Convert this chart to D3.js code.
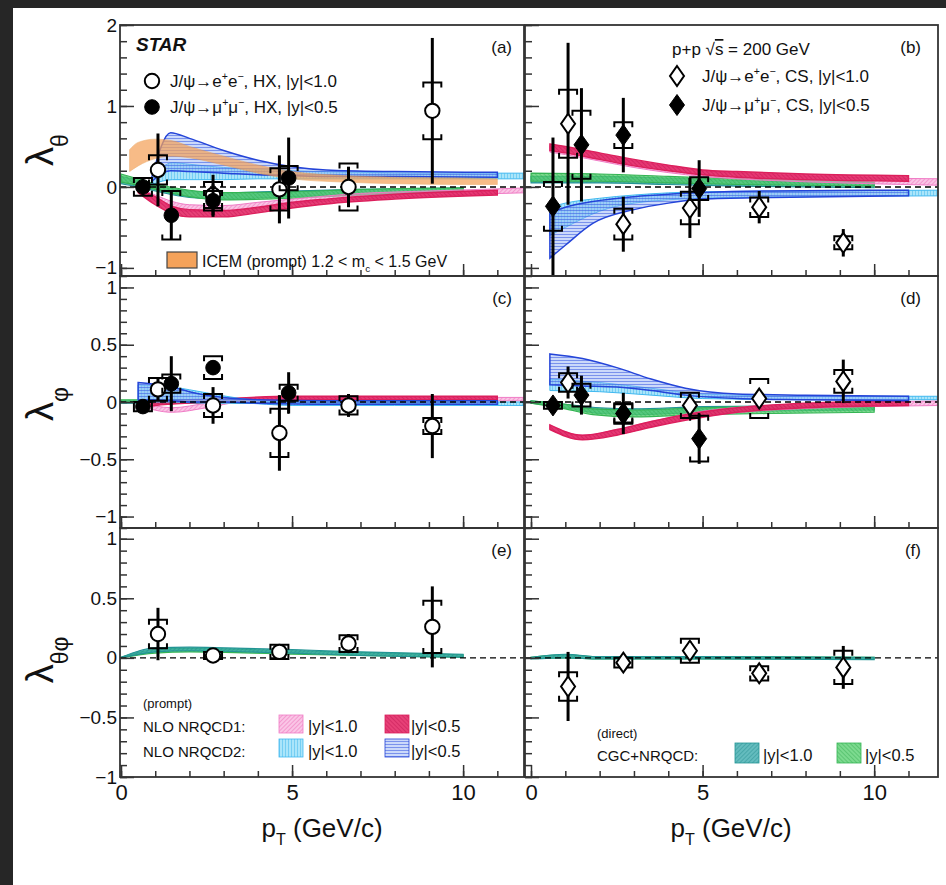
<!DOCTYPE html>
<html><head><meta charset="utf-8">
<script src="https://cdn.jsdelivr.net/npm/d3@7"></script>
<style>
body{margin:0;background:#fff;}
svg{display:block;}
text{font-family:"Liberation Sans",Arial,Helvetica,sans-serif;fill:#111;}
</style>
</head><body>
<script>
// ---------------- DATA ----------------
// pT bin centres (GeV/c)
const ptEE = [1.08, 2.69, 4.63, 6.65, 9.1];   // J/psi -> e+e-, |y|<1.0
const ptMM = [0.64, 1.47, 2.69, 4.9];         // J/psi -> mu+mu-, |y|<0.5

// lambda_theta, HX (panel a)
const lthHX_ee      = [0.21, -0.10, -0.03, 0.00, 0.94];
const lthHX_ee_stat = [0.45, 0.25, 0.42, 0.25, 0.90];
const lthHX_ee_sys  = [0.18, 0.16, 0.26, 0.29, 0.35];
const lthHX_mm      = [0.00, -0.35, -0.17, 0.11];
const lthHX_mm_stat = [0.11, 0.30, 0.20, 0.50];
const lthHX_mm_sys  = [0.11, 0.30, 0.12, 0.15];
// lambda_theta, CS (panel b)
const lthCS_ee      = [0.78, -0.46, -0.26, -0.25, -0.69];
const lthCS_ee_stat = [1.00, 0.34, 0.37, 0.20, 0.17];
const lthCS_ee_sys  = [0.42, 0.19, 0.20, 0.12, 0.08];
const lthCS_mm      = [-0.24, 0.52, 0.64, -0.02];
const lthCS_mm_stat = [0.85, 0.70, 0.46, 0.35];
const lthCS_mm_sys  = [0.30, 0.42, 0.16, 0.14];
// lambda_phi, HX (panel c)
const lphHX_ee      = [0.11, -0.03, -0.27, -0.03, -0.21];
const lphHX_ee_stat = [0.10, 0.16, 0.33, 0.10, 0.28];
const lphHX_ee_sys  = [0.10, 0.10, 0.21, 0.08, 0.07];
const lphHX_mm      = [-0.04, 0.16, 0.30, 0.08];
const lphHX_mm_stat = [0.03, 0.24, 0.06, 0.18];
const lphHX_mm_sys  = [0.04, 0.08, 0.10, 0.07];
// lambda_phi, CS (panel d)
const lphCS_ee      = [0.17, -0.10, -0.03, 0.03, 0.18];
const lphCS_ee_stat = [0.14, 0.10, 0.10, 0.07, 0.19];
const lphCS_ee_sys  = [0.08, 0.08, 0.11, 0.17, 0.10];
const lphCS_mm      = [-0.03, 0.06, -0.10, -0.32];
const lphCS_mm_stat = [0.04, 0.17, 0.18, 0.22];
const lphCS_mm_sys  = [0.03, 0.10, 0.09, 0.20];
// lambda_thetaphi (panels e, f)
const ltpHX_ee      = [0.20, 0.02, 0.05, 0.12, 0.26];
const ltpHX_ee_stat = [0.22, 0.05, 0.06, 0.08, 0.34];
const ltpHX_ee_sys  = [0.12, 0.03, 0.06, 0.07, 0.22];
const ltpCS_ee      = [-0.24, -0.04, 0.06, -0.13, -0.08];
const ltpCS_ee_stat = [0.29, 0.06, 0.08, 0.07, 0.18];
const ltpCS_ee_sys  = [0.12, 0.04, 0.10, 0.06, 0.14];

// model bands: [pT, low, high]
const a_icem   = [[0.25,0.19,0.46],[0.5,0.26,0.55],[1.0,0.35,0.59],[1.5,0.38,0.57],[2.0,0.36,0.5],[3.0,0.27,0.38],[4.0,0.17,0.27],[5.0,0.1,0.19],[6.5,0.06,0.14],[8,0.04,0.12],[10,0.03,0.11],[11,0.03,0.1]];
const a_cgc10  = [[0,0.04,0.13],[0.5,0.0,0.08],[1,-0.05,0.02],[2,-0.13,-0.05],[3,-0.15,-0.07],[5,-0.12,-0.05],[7,-0.09,-0.03],[10,-0.05,-0.01]];
const a_cgc05  = [[0,0.06,0.16],[0.5,0.02,0.1],[1,-0.03,0.04],[2,-0.12,-0.04],[3,-0.16,-0.07],[5,-0.14,-0.06],[7,-0.1,-0.03],[10,-0.06,-0.01]];
const a_nr1_10 = [[0.5,-0.05,-0.01],[1.0,-0.17,-0.1],[1.5,-0.27,-0.18],[2,-0.3,-0.22],[3,-0.3,-0.23],[4,-0.26,-0.19],[5,-0.21,-0.15],[7,-0.15,-0.08],[9,-0.11,-0.05],[12,-0.07,-0.01]];
const a_nr1_05 = [[0.5,-0.07,-0.02],[1.0,-0.22,-0.12],[1.5,-0.33,-0.24],[2.0,-0.37,-0.28],[3.0,-0.37,-0.29],[4.0,-0.32,-0.25],[5.0,-0.26,-0.19],[6.0,-0.21,-0.15],[8,-0.15,-0.09],[11,-0.1,-0.04]];
const a_nr2_10 = [[0.9,0.03,0.1],[1.5,0.09,0.3],[2,0.09,0.28],[3,0.09,0.24],[4,0.1,0.22],[5,0.1,0.2],[7,0.1,0.18],[9,0.1,0.17],[12,0.1,0.17]];
const a_nr2_05 = [[0.9,0.07,0.12],[1.45,0.2,0.67],[2,0.19,0.6],[3,0.17,0.45],[4,0.15,0.33],[5,0.14,0.25],[6,0.13,0.21],[8,0.13,0.19],[11,0.12,0.18]];

const b_cgc10  = [[0,0.05,0.13],[2,0.05,0.13],[4,0.03,0.11],[6,0.01,0.08],[10,-0.01,0.05]];
const b_cgc05  = [[0,0.07,0.17],[2,0.07,0.16],[4,0.05,0.13],[6,0.03,0.1],[8,0.02,0.08],[10,0.01,0.06]];
const b_nr1_10 = [[0.55,0.43,0.51],[1,0.4,0.48],[2,0.32,0.4],[3,0.24,0.32],[5,0.13,0.2],[7,0.08,0.15],[9,0.05,0.12],[12,0.02,0.1]];
const b_nr1_05 = [[0.55,0.45,0.53],[1,0.42,0.5],[2,0.34,0.42],[3,0.26,0.34],[4,0.2,0.27],[5,0.15,0.21],[6,0.12,0.19],[8,0.09,0.16],[11,0.07,0.14]];
const b_nr2_10 = [[0.55,-0.6,-0.25],[1,-0.5,-0.2],[2,-0.3,-0.14],[3,-0.2,-0.1],[5,-0.14,-0.06],[8,-0.12,-0.05],[12,-0.11,-0.04]];
const b_nr2_05 = [[0.55,-0.88,-0.32],[1,-0.72,-0.25],[1.8,-0.45,-0.18],[3,-0.28,-0.12],[4,-0.2,-0.09],[5,-0.15,-0.07],[7,-0.13,-0.05],[11,-0.11,-0.04]];

const c_cgc10  = [[0,-0.01,0.01],[5,-0.01,0.01],[10,-0.01,0.01]];
const c_cgc05  = [[0,-0.005,0.02],[5,-0.005,0.02],[10,-0.005,0.02]];
const c_nr1_10 = [[0.5,-0.03,0.0],[1.5,-0.09,-0.05],[2.5,-0.05,-0.01],[3.5,0.0,0.03],[5,0.01,0.04],[8,0.01,0.04],[12,0.01,0.04]];
const c_nr1_05 = [[0.5,-0.05,-0.01],[1,-0.03,0.0],[2,-0.01,0.02],[3,0.0,0.03],[5,0.02,0.05],[8,0.02,0.05],[11,0.02,0.05]];
const c_nr2_10 = [[0.5,0.0,0.15],[1.5,0.0,0.13],[2.5,-0.01,0.08],[3.5,-0.01,0.03],[5,-0.03,0.0],[8,-0.03,0.0],[12,-0.03,0.0]];
const c_nr2_05 = [[0.5,0.02,0.17],[1.5,0.01,0.13],[2,0.0,0.09],[3,0.0,0.04],[4,-0.01,0.02],[6,-0.02,0.01],[11,-0.02,0.01]];

const d_cgc10  = [[0,-0.01,0.01],[1,-0.05,-0.02],[2,-0.1,-0.05],[3,-0.11,-0.06],[5,-0.09,-0.04],[10,-0.07,-0.03]];
const d_cgc05  = [[0,-0.01,0.01],[1,-0.06,-0.02],[1.8,-0.11,-0.06],[3,-0.13,-0.07],[5,-0.11,-0.05],[7,-0.1,-0.04],[10,-0.09,-0.04]];
const d_nr1_10 = [[0.55,-0.235,-0.2],[1.5,-0.325,-0.29],[2.5,-0.285,-0.24],[3.5,-0.215,-0.17],[5,-0.13,-0.08],[7,-0.07,-0.03],[12,-0.03,0.01]];
const d_nr1_05 = [[0.55,-0.24,-0.2],[1.5,-0.33,-0.29],[2.5,-0.29,-0.24],[3.5,-0.22,-0.17],[4.5,-0.16,-0.11],[6,-0.09,-0.05],[8,-0.05,-0.01],[11,-0.03,0.01]];
const d_nr2_10 = [[0.55,0.1,0.2],[2,0.09,0.17],[3.5,0.06,0.12],[5,0.03,0.07],[8,0.02,0.05],[12,0.02,0.05]];
const d_nr2_05 = [[0.55,0.15,0.42],[1.5,0.14,0.38],[2.5,0.13,0.3],[3.5,0.1,0.2],[4.5,0.06,0.12],[6,0.03,0.07],[8,0.02,0.06],[11,0.01,0.05]];

const e_cgc10  = [[0,0.0,0.005],[1,0.05,0.085],[2,0.06,0.09],[3,0.055,0.085],[5,0.04,0.07],[7,0.02,0.05],[10,0.005,0.03]];
const e_cgc05  = [[0,0.0,0.005],[1,0.04,0.07],[2,0.05,0.08],[5,0.03,0.06],[10,0.005,0.025]];
const f_cgc10  = [[0,-0.01,0.005],[1,0.0,0.03],[2,-0.01,0.01],[5,-0.01,0.01],[10,-0.015,0.005]];
const f_cgc05  = [[0,-0.005,0.005],[1,0.0,0.025],[2,-0.01,0.01],[5,-0.01,0.01],[10,-0.01,0.005]];

// tick values
const xMajor = [0, 5, 10];
const xMinor = [0,1,2,3,4,5,6,7,8,9,10,11];
const yMajorTop = [-1, 0, 1, 2];
const yMinorTop = d3.range(-1.0, 2.001, 0.2);
const yMajorMid = [-1, -0.5, 0, 0.5, 1];
const yMinorMid = d3.range(-1.1, 1.101, 0.1);
const yMinorBot = d3.range(-1.0, 1.0901, 0.1);

// ---------------- LAYOUT ----------------
const W = 946, H = 885;
const cols = [{x0:120, x1:524, dom:[-0.03, 11.78]}, {x0:525, x1:938, dom:[-0.175, 11.86]}];
const rows = [
  {y0:25,  y1:276, dom:[-1.1, 2.0],  major:yMajorTop, minor:yMinorTop},
  {y0:276, y1:528, dom:[-1.1, 1.1],  major:yMajorMid, minor:yMinorMid},
  {y0:528, y1:777, dom:[-1.0, 1.09], major:yMajorMid, minor:yMinorBot}
];

const svg = d3.select('body').append('svg').attr('width', W).attr('height', H);
svg.append('rect').attr('width', W).attr('height', H).attr('fill', '#262626');
svg.append('rect').attr('x', 13).attr('y', 8).attr('width', W - 13).attr('height', H - 8).attr('fill', '#fff');

const defs = svg.append('defs');
function hatch(id, bg, line, angle, gap, op) {
  const p = defs.append('pattern').attr('id', id).attr('patternUnits', 'userSpaceOnUse')
    .attr('width', gap).attr('height', gap).attr('patternTransform', `rotate(${angle})`);
  p.append('rect').attr('width', gap).attr('height', gap).attr('fill', bg);
  p.append('line').attr('x1', 0.5).attr('y1', 0).attr('x2', 0.5).attr('y2', gap)
    .attr('stroke', line).attr('stroke-width', 0.8).attr('stroke-opacity', op);
}
hatch('hPink',  'rgba(246,150,210,0.55)', '#ee6ab8', 45, 3, 0.6);
hatch('hRed',   'rgba(228,38,100,0.88)',  '#b8104a', -45, 3, 0.5);
hatch('hCyan',  'rgba(100,208,246,0.55)', '#30b0ea', 0, 3, 0.55);
hatch('hBlue',  'rgba(140,170,245,0.45)', '#3a5ae0', 90, 3, 0.7);
hatch('hTeal',  'rgba(48,165,168,0.75)',  '#1d8a8a', 45, 3, 0.5);
hatch('hGreen', 'rgba(80,205,105,0.75)',  '#2ea84a', -45, 3, 0.5);

const ST = {
  icem:  {fill:'#f4a25a', stroke:'#ea9440', sw:0.6, op:0.72},
  pink:  {fill:'url(#hPink)',  stroke:'#f07cc6', sw:1.0, op:1},
  red:   {fill:'url(#hRed)',   stroke:'#dc1f5c', sw:1.4, op:1},
  cyan:  {fill:'url(#hCyan)',  stroke:'#40b8f0', sw:1.0, op:1},
  blue:  {fill:'url(#hBlue)',  stroke:'#2444d8', sw:1.5, op:1},
  teal:  {fill:'url(#hTeal)',  stroke:'#229494', sw:1.1, op:1},
  green: {fill:'url(#hGreen)', stroke:'#34b454', sw:1.1, op:1}
};

const panelDefs = [
  {lab:'(a)', c:0, r:0,
   bands:[['teal',a_cgc10],['green',a_cgc05],['pink',a_nr1_10],['red',a_nr1_05],['cyan',a_nr2_10],['blue',a_nr2_05],['icem',a_icem]],
   sets:[[ptEE,lthHX_ee,lthHX_ee_stat,lthHX_ee_sys,'circle',false],[ptMM,lthHX_mm,lthHX_mm_stat,lthHX_mm_sys,'circle',true]]},
  {lab:'(b)', c:1, r:0,
   bands:[['teal',b_cgc10],['green',b_cgc05],['pink',b_nr1_10],['red',b_nr1_05],['cyan',b_nr2_10],['blue',b_nr2_05]],
   sets:[[ptEE,lthCS_ee,lthCS_ee_stat,lthCS_ee_sys,'diamond',false],[ptMM,lthCS_mm,lthCS_mm_stat,lthCS_mm_sys,'diamond',true]]},
  {lab:'(c)', c:0, r:1,
   bands:[['teal',c_cgc10],['green',c_cgc05],['pink',c_nr1_10],['red',c_nr1_05],['cyan',c_nr2_10],['blue',c_nr2_05]],
   sets:[[ptEE,lphHX_ee,lphHX_ee_stat,lphHX_ee_sys,'circle',false],[ptMM,lphHX_mm,lphHX_mm_stat,lphHX_mm_sys,'circle',true]]},
  {lab:'(d)', c:1, r:1,
   bands:[['teal',d_cgc10],['green',d_cgc05],['pink',d_nr1_10],['red',d_nr1_05],['cyan',d_nr2_10],['blue',d_nr2_05]],
   sets:[[ptEE,lphCS_ee,lphCS_ee_stat,lphCS_ee_sys,'diamond',false],[ptMM,lphCS_mm,lphCS_mm_stat,lphCS_mm_sys,'diamond',true]]},
  {lab:'(e)', c:0, r:2,
   bands:[['green',e_cgc05],['teal',e_cgc10]],
   sets:[[ptEE,ltpHX_ee,ltpHX_ee_stat,ltpHX_ee_sys,'circle',false]]},
  {lab:'(f)', c:1, r:2,
   bands:[['green',f_cgc05],['teal',f_cgc10]],
   sets:[[ptEE,ltpCS_ee,ltpCS_ee_stat,ltpCS_ee_sys,'diamond',false]]}
];

const fmt = d => (d === 0 ? '0' : String(+d.toFixed(2)).replace('-', '\u2212'));
const FRAME = '#333';

function marker(g, shape, cx, cy, filled) {
  if (shape === 'circle') {
    g.append('circle').attr('cx', cx).attr('cy', cy).attr('r', filled ? 7.3 : 7.2)
      .attr('fill', filled ? '#000' : '#fff').attr('stroke', '#000').attr('stroke-width', filled ? 1 : 2);
  } else {
    const hw = filled ? 7.5 : 7, hh = filled ? 10.5 : 10;
    g.append('path').attr('d', `M${cx},${cy-hh}L${cx+hw},${cy}L${cx},${cy+hh}L${cx-hw},${cy}Z`)
      .attr('fill', filled ? '#000' : '#fff').attr('stroke', '#000').attr('stroke-width', filled ? 1 : 2);
  }
}

panelDefs.forEach((P, idx) => {
  const C = cols[P.c], R = rows[P.r];
  const x = d3.scaleLinear().domain(C.dom).range([C.x0, C.x1]);
  const y = d3.scaleLinear().domain(R.dom).range([R.y1, R.y0]);
  const g = svg.append('g');
  const clipId = 'clip' + idx;
  defs.append('clipPath').attr('id', clipId).append('rect')
    .attr('x', C.x0).attr('y', R.y0).attr('width', C.x1 - C.x0).attr('height', R.y1 - R.y0);
  const plot = g.append('g').attr('clip-path', `url(#${clipId})`);

  // model bands
  const area = d3.area().x(d => x(d[0])).y0(d => y(d[1])).y1(d => y(d[2])).curve(d3.curveMonotoneX);
  P.bands.forEach(([k, arr]) => {
    plot.append('path').datum(arr).attr('d', area).attr('opacity', ST[k].op)
      .attr('fill', ST[k].fill).attr('stroke', ST[k].stroke).attr('stroke-width', ST[k].sw);
  });

  // zero line
  plot.append('line').attr('x1', C.x0).attr('x2', C.x1).attr('y1', y(0)).attr('y2', y(0))
    .attr('stroke', '#000').attr('stroke-width', 1.4).attr('stroke-dasharray', '6,4');

  // data
  P.sets.forEach(([pts, vals, stat, sys, shape, filled]) => {
    pts.forEach((p, i) => {
      const cx = x(p), cy = y(vals[i]);
      const yt = y(vals[i] + sys[i]), yb = y(vals[i] - sys[i]);
      plot.append('path').attr('d', `M${cx-9},${yt+5}V${yt}H${cx+9}V${yt+5}M${cx-9},${yb-5}V${yb}H${cx+9}V${yb-5}`)
        .attr('fill', 'none').attr('stroke', '#000').attr('stroke-width', 2);
      plot.append('line').attr('x1', cx).attr('x2', cx)
        .attr('y1', y(vals[i] + stat[i])).attr('y2', y(vals[i] - stat[i]))
        .attr('stroke', '#000').attr('stroke-width', 3);
    });
    pts.forEach((p, i) => marker(plot, shape, x(p), y(vals[i]), filled));
  });

  // frame
  g.append('rect').attr('x', C.x0).attr('y', R.y0).attr('width', C.x1 - C.x0).attr('height', R.y1 - R.y0)
    .attr('fill', 'none').attr('stroke', FRAME).attr('stroke-width', 1.8);

  // y ticks (inward)
  const tickStyle = s => { s.select('.domain').remove(); s.selectAll('line').attr('stroke', FRAME).attr('stroke-width', 1.5); };
  g.append('g').attr('transform', `translate(${C.x0},0)`)
    .call(d3.axisRight(y).tickValues(R.minor).tickSize(7).tickFormat('')).call(tickStyle);
  g.append('g').attr('transform', `translate(${C.x0},0)`)
    .call(d3.axisRight(y).tickValues(R.major).tickSize(14).tickFormat('')).call(tickStyle);
  // x ticks (inward)
  g.append('g').attr('transform', `translate(0,${R.y1})`)
    .call(d3.axisTop(x).tickValues(xMinor).tickSize(6).tickFormat('')).call(tickStyle);
  g.append('g').attr('transform', `translate(0,${R.y1})`)
    .call(d3.axisTop(x).tickValues(xMajor).tickSize(12).tickFormat('')).call(tickStyle);

  if (P.c === 0) {
    const yl = g.append('g').attr('transform', `translate(${C.x0},0)`)
      .call(d3.axisLeft(y).tickValues(R.major).tickSize(0).tickPadding(3).tickFormat(fmt));
    yl.select('.domain').remove();
    yl.selectAll('text').attr('font-size', 19).attr('font-family', '"Liberation Sans",Arial,sans-serif').attr('fill', '#111');
  }
  if (P.r === 2) {
    const xl = g.append('g').attr('transform', `translate(0,${R.y1})`)
      .call(d3.axisBottom(x).tickValues(xMajor).tickSize(0).tickPadding(7).tickFormat(d3.format('d')));
    xl.select('.domain').remove();
    xl.selectAll('text').attr('font-size', 22).attr('font-family', '"Liberation Sans",Arial,sans-serif').attr('fill', '#111');
  }

  // panel label
  g.append('text').attr('x', C.x1 - (P.c === 0 ? 12 : 17)).attr('y', R.y0 + 28)
    .attr('text-anchor', 'end').attr('font-size', 17).text(P.lab);
});

// ---------------- TEXT HELPERS ----------------
function rich(sel, parts, size) {
  let shift = 0;
  parts.forEach(([t, tp]) => {
    const ts = sel.append('tspan').text(t);
    const target = tp === 'sup' ? -0.42 * size : tp === 'sub' ? 0.32 * size : 0;
    ts.attr('dy', target - shift);
    shift = target;
    if (tp !== 'n') ts.attr('font-size', size * 0.62);
  });
}

// axis titles
function yTitle(cy, subs) {
  const t = svg.append('text').attr('transform', `translate(53,${cy}) rotate(-90)`).attr('text-anchor', 'middle')
    .attr('font-family', '"Liberation Serif","Times New Roman",serif').attr('font-size', 38);
  t.append('tspan').text('\u03bb');
  t.append('tspan').attr('dy', 15).attr('font-size', 23).text(subs);
}
yTitle(150, '\u03b8');
yTitle(404, '\u03c6');
yTitle(660, '\u03b8\u03c6');

[322, 731].forEach(cx => {
  const t = svg.append('text').attr('x', cx).attr('y', 837).attr('text-anchor', 'middle').attr('font-size', 26);
  rich(t, [['p', 'n'], ['T', 'sub'], [' (GeV/c)', 'n']], 26);
});

// ---------------- LEGENDS ----------------
svg.append('text').attr('x', 136).attr('y', 51).attr('font-size', 19).attr('font-weight', 'bold')
  .attr('font-style', 'italic').text('STAR');

const leg = svg.append('g');
marker(leg, 'circle', 152, 81, false);
marker(leg, 'circle', 152, 107, true);
rich(leg.append('text').attr('x', 170).attr('y', 87).attr('font-size', 17),
  [['J/\u03c8\u2192e', 'n'], ['+', 'sup'], ['e', 'n'], ['\u2212', 'sup'], [', HX, |y|<1.0', 'n']], 17);
rich(leg.append('text').attr('x', 170).attr('y', 113).attr('font-size', 17),
  [['J/\u03c8\u2192\u03bc', 'n'], ['+', 'sup'], ['\u03bc', 'n'], ['\u2212', 'sup'], [', HX, |y|<0.5', 'n']], 17);

leg.append('rect').attr('x', 167).attr('y', 252).attr('width', 30).attr('height', 16)
  .attr('fill', '#f4a25a').attr('stroke', '#444').attr('stroke-width', 1.2);
rich(leg.append('text').attr('x', 202).attr('y', 267).attr('font-size', 16),
  [['ICEM (prompt) 1.2 < m', 'n'], ['c', 'sub'], [' < 1.5 GeV', 'n']], 16);

// panel b
const tb = leg.append('text').attr('x', 672).attr('y', 55).attr('font-size', 17);
tb.append('tspan').text('p+p \u221a');
tb.append('tspan').attr('text-decoration', 'overline').text('s');
tb.append('tspan').text(' = 200 GeV');
marker(leg, 'diamond', 677, 76, false);
marker(leg, 'diamond', 677, 105, true);
rich(leg.append('text').attr('x', 702).attr('y', 82).attr('font-size', 17),
  [['J/\u03c8\u2192e', 'n'], ['+', 'sup'], ['e', 'n'], ['\u2212', 'sup'], [', CS, |y|<1.0', 'n']], 17);
rich(leg.append('text').attr('x', 702).attr('y', 111).attr('font-size', 17),
  [['J/\u03c8\u2192\u03bc', 'n'], ['+', 'sup'], ['\u03bc', 'n'], ['\u2212', 'sup'], [', CS, |y|<0.5', 'n']], 17);

// panel e legend
leg.append('text').attr('x', 143).attr('y', 708).attr('font-size', 13).text('(prompt)');
leg.append('text').attr('x', 143).attr('y', 732).attr('font-size', 15).text('NLO NRQCD1:');
leg.append('text').attr('x', 143).attr('y', 757).attr('font-size', 15).text('NLO NRQCD2:');
[['pink', 279, 715], ['red', 385, 715], ['cyan', 279, 739], ['blue', 385, 739]].forEach(([k, sx, sy]) => {
  leg.append('rect').attr('x', sx).attr('y', sy).attr('width', 24).attr('height', 18)
    .attr('fill', ST[k].fill).attr('stroke', ST[k].stroke).attr('stroke-width', 0.8);
});
[[308, 732, '|y|<1.0'], [411, 732, '|y|<0.5'], [308, 757, '|y|<1.0'], [411, 757, '|y|<0.5']].forEach(([tx, ty, s]) => {
  leg.append('text').attr('x', tx).attr('y', ty).attr('font-size', 16.5).text(s);
});

// panel f legend
leg.append('text').attr('x', 597).attr('y', 738).attr('font-size', 13).text('(direct)');
leg.append('text').attr('x', 597).attr('y', 761).attr('font-size', 15).text('CGC+NRQCD:');
[['teal', 735], ['green', 837]].forEach(([k, sx]) => {
  leg.append('rect').attr('x', sx).attr('y', 743).attr('width', 24).attr('height', 20)
    .attr('fill', ST[k].fill).attr('stroke', ST[k].stroke).attr('stroke-width', 0.8);
});
leg.append('text').attr('x', 763).attr('y', 761).attr('font-size', 16.5).text('|y|<1.0');
leg.append('text').attr('x', 865).attr('y', 761).attr('font-size', 16.5).text('|y|<0.5');
</script>
</body></html>
